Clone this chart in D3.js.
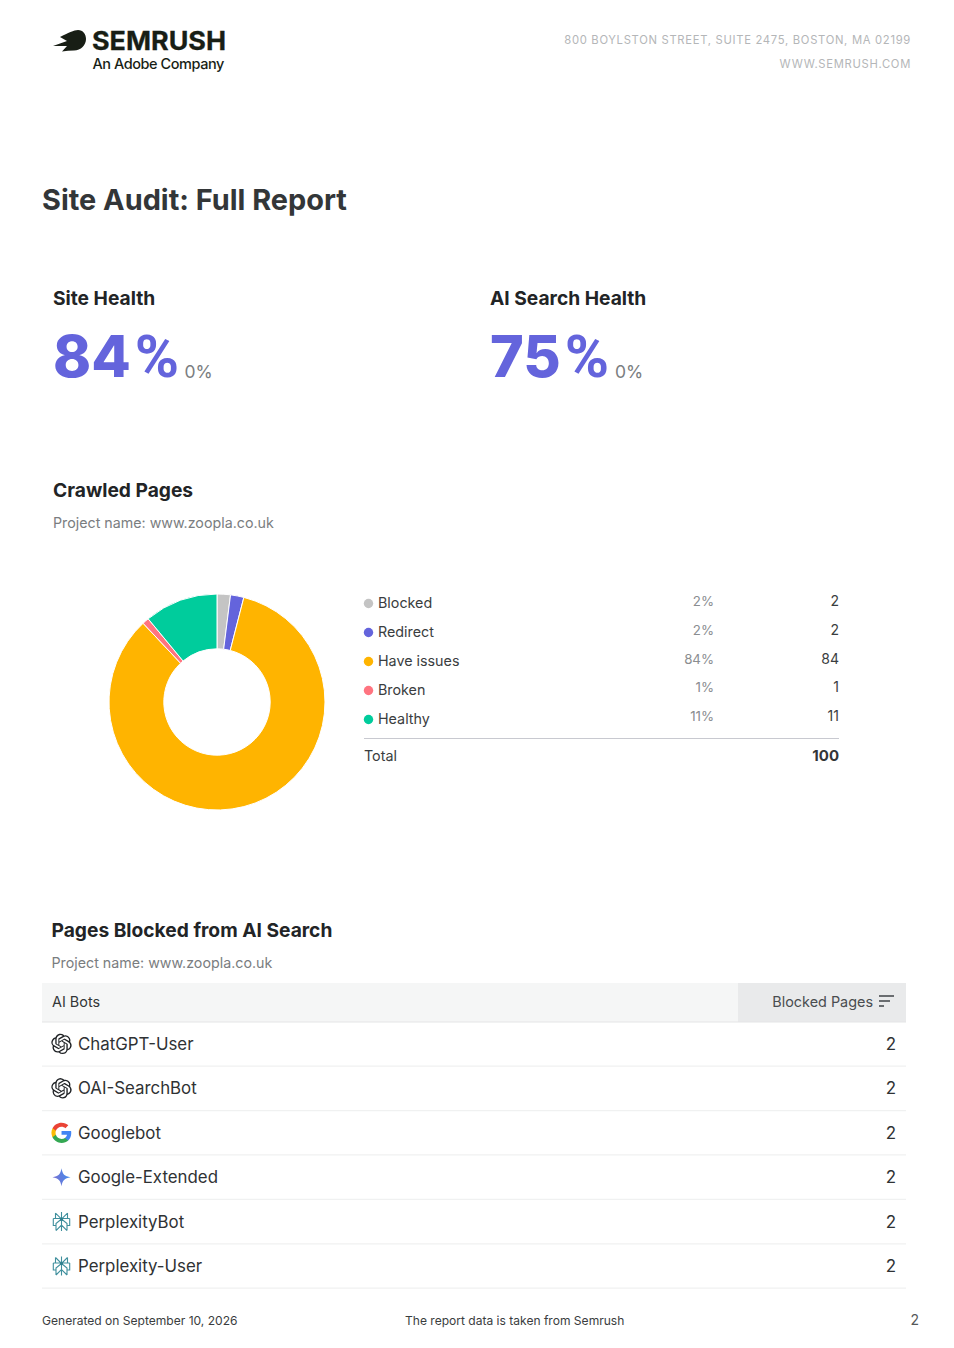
<!DOCTYPE html>
<html><head><meta charset="utf-8">
<script src="https://cdn.jsdelivr.net/npm/d3@7"></script>
<style>html,body{margin:0;padding:0;background:#fff}svg{display:block}text{font-family:Inter,"Noto Sans",sans-serif}</style>
</head><body><div id="c"></div>
<script>
const categories=["Blocked","Redirect","Have issues","Broken","Healthy"];
const values=[2,2,84,1,11];
const percents=["2%","2%","84%","1%","11%"];
const colors=["#c4c4c4","#6464dc","#ffb400","#ff7480","#00cc9c"];
const totalLabel="Total", totalValue="100";
const bots=["ChatGPT-User","OAI-SearchBot","Googlebot","Google-Extended","PerplexityBot","Perplexity-User"];
const botIcons=["openai","openai","google","gemini","perplexity","perplexity"];
const blockedPages=[2,2,2,2,2,2];
const OPENAI="M22.2819 9.8211a5.9847 5.9847 0 0 0-.5157-4.9108 6.0462 6.0462 0 0 0-6.5098-2.9A6.0651 6.0651 0 0 0 4.9807 4.1818a5.9847 5.9847 0 0 0-3.9977 2.9 6.0462 6.0462 0 0 0 .7427 7.0966 5.98 5.98 0 0 0 .511 4.9107 6.051 6.051 0 0 0 6.5146 2.9001A5.9847 5.9847 0 0 0 13.2599 24a6.0557 6.0557 0 0 0 5.7718-4.2058 5.9894 5.9894 0 0 0 3.9977-2.9001 6.0557 6.0557 0 0 0-.7475-7.0729zm-9.022 12.6081a4.4755 4.4755 0 0 1-2.8764-1.0408l.1419-.0804 4.7783-2.7582a.7948.7948 0 0 0 .3927-.6813v-6.7369l2.02 1.1686a.071.071 0 0 1 .038.052v5.5826a4.504 4.504 0 0 1-4.4945 4.4944zm-9.6607-4.1254a4.4708 4.4708 0 0 1-.5346-3.0137l.142.0852 4.783 2.7582a.7712.7712 0 0 0 .7806 0l5.8428-3.3685v2.3324a.0804.0804 0 0 1-.0332.0615L9.74 19.9502a4.4992 4.4992 0 0 1-6.1408-1.6464zM2.3408 7.8956a4.485 4.485 0 0 1 2.3655-1.9728V11.6a.7664.7664 0 0 0 .3879.6765l5.8144 3.3543-2.0201 1.1685a.0757.0757 0 0 1-.071 0l-4.8303-2.7865A4.504 4.504 0 0 1 2.3408 7.872zm16.5963 3.8558L13.1038 8.364 15.1192 7.2a.0757.0757 0 0 1 .071 0l4.8303 2.7913a4.4944 4.4944 0 0 1-.6765 8.1042v-5.6772a.79.79 0 0 0-.407-.667zm2.0107-3.0231l-.142-.0852-4.7735-2.7818a.7759.7759 0 0 0-.7854 0L9.409 9.2297V6.8974a.0662.0662 0 0 1 .0284-.0615l4.8303-2.7866a4.4992 4.4992 0 0 1 6.6802 4.66zM8.3065 12.863l-2.02-1.1638a.0804.0804 0 0 1-.038-.0567V6.0742a4.4992 4.4992 0 0 1 7.3757-3.4537l-.142.0805L8.704 5.459a.7948.7948 0 0 0-.3927.6813zm1.0976-2.3654l2.602-1.4998 2.6069 1.4998v2.9994l-2.5974 1.4997-2.6067-1.4997Z";
const GOOGLE=[["#4285f4","M22.56 12.25c0-.78-.07-1.53-.2-2.25H12v4.26h5.92c-.26 1.37-1.04 2.53-2.21 3.31v2.77h3.57c2.08-1.92 3.28-4.74 3.28-8.09z"],
["#34a853","M12 23c2.97 0 5.46-.98 7.28-2.66l-3.57-2.77c-.98.66-2.23 1.06-3.71 1.06-2.86 0-5.29-1.93-6.16-4.53H2.18v2.84C3.99 20.53 7.7 23 12 23z"],
["#fbbc05","M5.84 14.09c-.22-.66-.35-1.36-.35-2.09s.13-1.43.35-2.09V7.07H2.18C1.43 8.55 1 10.22 1 12s.43 3.45 1.18 4.93l2.85-2.22.81-.62z"],
["#ea4335","M12 5.38c1.62 0 3.06.56 4.21 1.64l3.15-3.15C17.45 2.09 14.97 1 12 1 7.7 1 3.99 3.47 2.18 7.07l3.66 2.84c.87-2.6 3.3-4.53 6.16-4.53z"]];

const W=954,H=1348;
const svg=d3.select("#c").append("svg").attr("width",W).attr("height",H).attr("viewBox",`0 0 ${W} ${H}`);
function T(x,y,s,size,fill,weight,anchor,ls){
  return svg.append("text").attr("x",x).attr("y",y).text(s).attr("font-size",size).attr("fill",fill)
   .attr("font-weight",weight||400).attr("text-anchor",anchor||"start").attr("letter-spacing",ls||0);
}
// logo
svg.append("path").attr("fill","#181e15").attr("d","M60 37 C68 33 74 30 78 30 C83 30 86 34 86 39 C86 45 81 50.5 74 50.5 C70 50.5 66 51 62 51.5 L67 46 L53 46 L67 41 Z");
T(92,50,"SEMRUSH",25.5,"#181e15",700).attr("textLength",134).attr("lengthAdjust","spacingAndGlyphs").attr("stroke","#181e15").attr("stroke-width",.3);
T(92.5,69,"An Adobe Company",14.5,"#181e15",500,"start",-.45);
const hdr="#b4b6b8";
T(911,44,"800 BOYLSTON STREET, SUITE 2475, BOSTON, MA 02199",11.25,hdr,400,"end",.69);
T(911,68,"WWW.SEMRUSH.COM",11.25,hdr,400,"end",.69);
T(42,210,"Site Audit: Full Report",28.9,"#333638",700);
const H2=19.2, H2W=700;
T(53,305,"Site Health",H2,"#222426",H2W);
T(490,305,"AI Search Health",H2,"#222426",H2W);
function big(x,s){
  const t=T(x,377,"",57.5,"#6464dc",800);
  t.append("tspan").text(s);
  t.append("tspan").attr("dx",4).attr("font-family","Roboto").attr("font-size",60).attr("font-weight",700).text("%");
}
big(53,"84");
T(184.5,378,"0%",17.5,"#7a7d80",400);
big(490,"75");
T(615,378,"0%",17.5,"#7a7d80",400);
T(53,497,"Crawled Pages",H2,"#222426",H2W);
T(53,528,"Project name: www.zoopla.co.uk",14.26,"#7a7d80");

// donut
const pie=d3.pie().sort(null).value(d=>d)(values);
const arc=d3.arc().innerRadius(53.2).outerRadius(108);
svg.append("g").attr("transform","translate(217,702)").selectAll("path").data(pie).join("path")
  .attr("d",arc).attr("fill",(d,i)=>colors[i]).attr("stroke","#fff").attr("stroke-width",1);

// legend table
const rowY=d3.scalePoint().domain(categories).range([603,719]);
const rowR=d3.scalePoint().domain(categories).range([606,721]);
categories.forEach((c,i)=>{
  const y=rowY(c);
  svg.append("circle").attr("cx",368.5).attr("cy",y+.5).attr("r",4.7).attr("fill",colors[i]);
  T(378,y+5,c,14.3,"#3a3d40");
  T(714,rowR(c),percents[i],13.3,"#8a8d90",400,"end");
  T(839,rowR(c),String(values[i]),14,"#3a3d40",400,"end");
});
svg.append("line").attr("x1",364).attr("x2",839).attr("y1",738.5).attr("y2",738.5).attr("stroke","#c8c9d0");
T(364,761,totalLabel,14.3,"#3a3d40");
T(839,761,totalValue,15,"#333638",700,"end");

// table
T(51.5,937,"Pages Blocked from AI Search",H2,"#222426",H2W);
T(51.5,968,"Project name: www.zoopla.co.uk",14.26,"#7a7d80");
svg.append("rect").attr("x",42).attr("y",983).attr("width",864).attr("height",39).attr("fill","#f5f6f6");
svg.append("rect").attr("x",738).attr("y",983).attr("width",168).attr("height",39).attr("fill","#e9eaeb");
svg.append("line").attr("x1",42).attr("x2",906).attr("y1",1022).attr("y2",1022).attr("stroke","#e4e5e6");
T(52,1007,"AI Bots",14.4,"#333638");
T(873,1007,"Blocked Pages",14.4,"#4a4d50",400,"end");
[[879,894],[879,890],[879,884]].forEach((a,i)=>svg.append("line").attr("x1",a[0]).attr("x2",a[1]).attr("y1",996+i*5).attr("y2",996+i*5).attr("stroke","#6a6d70").attr("stroke-width",2));

const y=d3.scaleBand().domain(bots).range([1021.7,1288.2]);
function icon(kind,g){
  if(kind==="openai"){
    g.append("path").attr("d",OPENAI).attr("fill","#202326").attr("transform","translate(-10.2,-10.2) scale(.85)");
  } else if(kind==="google"){
    const k=g.append("g").attr("transform","translate(-11,-11) scale(.92)");
    GOOGLE.forEach(p=>k.append("path").attr("fill",p[0]).attr("d",p[1]));
  } else if(kind==="gemini"){
    if(svg.select("#gem").empty()){
      const d=svg.append("defs").append("linearGradient").attr("id","gem").attr("x1","0").attr("y1","0.6").attr("x2","1").attr("y2","0.3");
      d.append("stop").attr("offset","0").attr("stop-color","#7b6fd0");d.append("stop").attr("offset","1").attr("stop-color","#3f8ff0");
    }
    g.append("path").attr("fill","url(#gem)").attr("d","M0 -9 C1 -3 3 -1 9 0 C3 1 1 3 0 9 C-1 3 -3 1 -9 0 C-3 -1 -1 -3 0 -9Z");
  } else {
    const k=g.append("g").attr("fill","none").attr("stroke","#3f8f9d").attr("stroke-width",1.1);
    k.append("path").attr("d","M0 -9.5V9.5 M-6 -8.5L0 -2.5L6 -8.5 M-6 -8.5V-3 M6 -8.5V-3 M-8.2 -3H8.2 M-8.2 -3V4H-5.5 M8.2 -3V4H5.5 M-5.5 9L-5.5 2L0 -2.5L5.5 2L5.5 9 M-5.5 9L0 3.5L5.5 9");
    g.append("circle").attr("r",1.5).attr("cy",-2.5).attr("fill","#2f7f8d");
  }
}
bots.forEach((b,i)=>{
  const cy=y(b)+y.bandwidth()/2;
  svg.append("line").attr("x1",42).attr("x2",906).attr("y1",y(b)+y.bandwidth()).attr("y2",y(b)+y.bandwidth()).attr("stroke","#f0f1f1").attr("stroke-width",1.2);
  icon(botIcons[i],svg.append("g").attr("transform",`translate(61.5,${cy})`));
  T(78,cy+6,b,16.85,"#2f3234");
  T(896,cy+6,String(blockedPages[i]),17,"#2f3234",400,"end");
});
T(42,1325,"Generated on September 10, 2026",12.05,"#3a3d40");
T(405,1325,"The report data is taken from Semrush",12.05,"#3a3d40");
T(919,1325,"2",14,"#55585a",400,"end");
</script></body></html>
